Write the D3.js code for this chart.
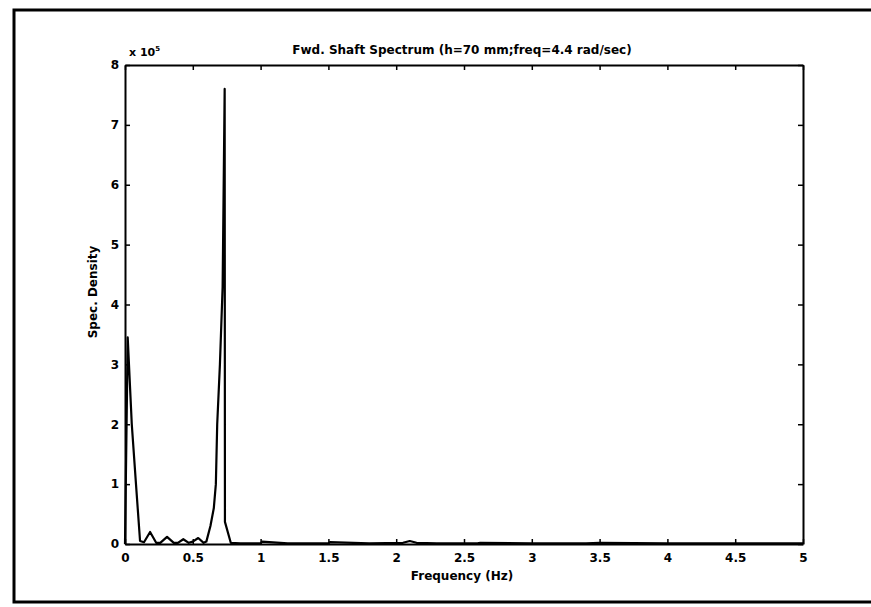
<!DOCTYPE html>
<html><head><meta charset="utf-8">
<script src="https://cdn.jsdelivr.net/npm/d3@7"></script>
<style>
html,body{margin:0;padding:0;background:#fff;}
svg text{font-family:"DejaVu Sans",Arial,sans-serif;font-weight:bold;fill:#000;}
</style></head>
<body>
<svg id="chart" width="871" height="607"></svg>
<script>
// Data (spectral density in units of x 10^5)
const freq = [0, 0.02, 0.05, 0.081, 0.111, 0.14, 0.185, 0.23, 0.26, 0.31, 0.36, 0.39, 0.43, 0.47, 0.50, 0.54, 0.58, 0.60, 0.63, 0.655, 0.67, 0.68, 0.70, 0.72, 0.735, 0.737, 0.78, 0.85, 1.0, 1.01, 1.2, 1.5, 1.51, 1.8, 2.05, 2.1, 2.15, 2.3, 2.6, 2.62, 3.0, 3.4, 3.5, 4.0, 4.5, 5.0];
const density = [0, 3.45, 2.0, 1.0, 0.05, 0.03, 0.2, 0.02, 0.02, 0.12, 0.02, 0.02, 0.08, 0.02, 0.04, 0.1, 0.02, 0.04, 0.3, 0.6, 1.0, 2.0, 3.0, 4.3, 7.6, 0.37, 0.02, 0.01, 0.01, 0.04, 0.01, 0.01, 0.03, 0.01, 0.02, 0.05, 0.02, 0.01, 0.01, 0.02, 0.01, 0.01, 0.02, 0.01, 0.01, 0.01];
const xTicks = [0, 0.5, 1, 1.5, 2, 2.5, 3, 3.5, 4, 4.5, 5];
const xTickLabels = ["0", "0.5", "1", "1.5", "2", "2.5", "3", "3.5", "4", "4.5", "5"];
const yTicks = [0, 1, 2, 3, 4, 5, 6, 7, 8];
const yTickLabels = ["0", "1", "2", "3", "4", "5", "6", "7", "8"];
const titleText = "Fwd. Shaft Spectrum (h=70 mm;freq=4.4 rad/sec)";
const xLabelText = "Frequency (Hz)";
const yLabelText = "Spec. Density";

const svg = d3.select("#chart");
const L = 125, R = 803, T = 65, B = 544;

// outer frame
svg.append("rect").attr("x", 14).attr("y", 10).attr("width", 880).attr("height", 592)
  .attr("fill", "none").attr("stroke", "#000").attr("stroke-width", 3);

const x = d3.scaleLinear().domain([0, 5]).range([L, R]);
const y = d3.scaleLinear().domain([0, 8]).range([B, T]);

const tickLen = 5;
const gx = svg.append("g").attr("transform", `translate(0,${B})`)
  .call(d3.axisBottom(x).tickValues(xTicks).tickFormat((d, i) => xTickLabels[i]).tickSizeInner(-tickLen).tickSizeOuter(0).tickPadding(9));
const gxt = svg.append("g").attr("transform", `translate(0,${T})`)
  .call(d3.axisTop(x).tickValues(xTicks).tickFormat("").tickSizeInner(-tickLen).tickSizeOuter(0));
const gy = svg.append("g").attr("transform", `translate(${L},0)`)
  .call(d3.axisLeft(y).tickValues(yTicks).tickFormat((d, i) => yTickLabels[i]).tickSizeInner(-tickLen).tickSizeOuter(0).tickPadding(6));
const gyr = svg.append("g").attr("transform", `translate(${R},0)`)
  .call(d3.axisRight(y).tickValues(yTicks).tickFormat("").tickSizeInner(-tickLen).tickSizeOuter(0));

[gx, gxt, gy, gyr].forEach(g => {
  g.select(".domain").attr("stroke", "#000").attr("stroke-width", 2);
  g.selectAll(".tick line").attr("stroke", "#000").attr("stroke-width", 1.5);
  g.selectAll(".tick text").style("font-size", "12px").style("font-family", "DejaVu Sans, sans-serif").style("font-weight", "bold").attr("fill", "#000");
});

// data line
const line = d3.line().x((d, i) => x(freq[i])).y((d, i) => y(density[i]));
svg.append("path").datum(density).attr("d", line)
  .attr("fill", "none").attr("stroke", "#000").attr("stroke-width", 2.2).attr("stroke-linejoin", "round");

// title
svg.append("text").attr("x", 462).attr("y", 54).attr("text-anchor", "middle")
  .style("font-size", "12px").text(titleText);
// multiplier
const m = svg.append("text").attr("x", 129).attr("y", 56).style("font-size", "11px");
m.append("tspan").text("x 10");
m.append("tspan").attr("dy", -5).style("font-size", "7px").text("5");
// x label
svg.append("text").attr("x", 462).attr("y", 580).attr("text-anchor", "middle")
  .style("font-size", "12px").text(xLabelText);
// y label
svg.append("text").attr("transform", `translate(97,292) rotate(-90)`)
  .attr("text-anchor", "middle").style("font-size", "12px").text(yLabelText);
</script>
</body></html>
